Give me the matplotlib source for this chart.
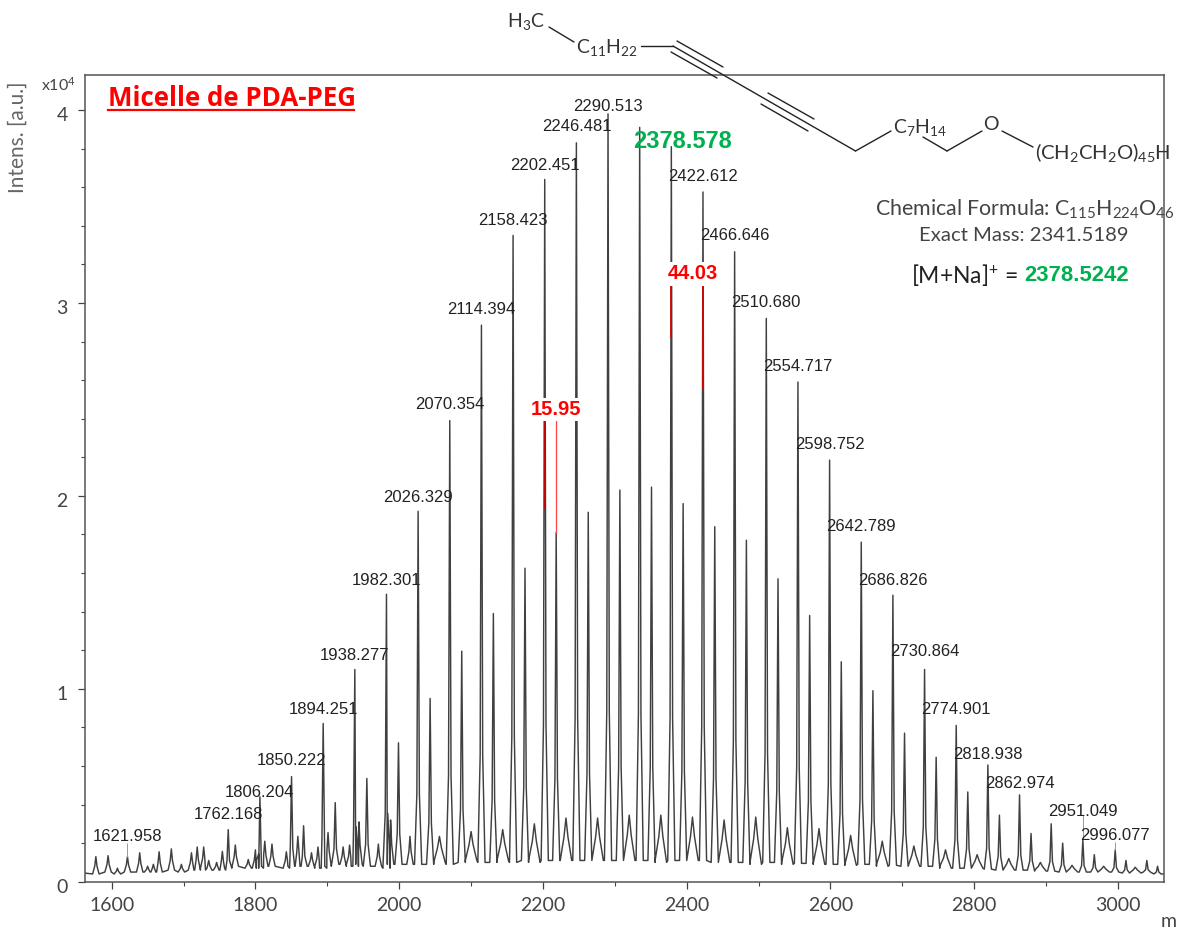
# -*- coding: utf-8 -*-
"""MALDI-TOF spectrum of PDA-PEG micelles, with the monomer structure on top."""
import numpy as np
import matplotlib
matplotlib.use('Agg')
import matplotlib.pyplot as plt
from matplotlib.transforms import ScaledTranslation

plt.rcParams['font.family'] = ['Lato', 'DejaVu Sans']
plt.rcParams['mathtext.default'] = 'regular'

# main family of peaks (44 spacing)
main_mz = [1762.168, 1806.204, 1850.222, 1894.251, 1938.277, 1982.301, 2026.329,
           2070.354, 2114.394, 2158.423, 2202.451, 2246.481, 2290.513, 2334.545,
           2378.578, 2422.612, 2466.646, 2510.680, 2554.717, 2598.752, 2642.789,
           2686.826, 2730.864, 2774.901, 2818.938, 2862.974, 2907.01, 2951.049,
           2996.077, 3040.1]
main_int = [.27, .44, .545, .82, 1.10, 1.49, 1.92, 2.39, 2.885, 3.35, 3.64, 3.83,
            3.98, 3.91, 3.81, 3.575, 3.265, 2.92, 2.59, 2.185, 1.76, 1.485, 1.10,
            .81, .605, .45, .30, .215, .165, .11]
main_foot = [.07, .07, .08, .07, .08, .07, .09, .09, .10, .10, .11, .11, .11, .11,
             .11, .11, .10, .10, .095, .09, .09, .085, .08, .07, .065, .06, .055,
             .05, .05, .05]

# +16 satellite family
side_mz = [1867, 1911, 1955, 1999, 2043, 2087, 2131, 2175, 2218.4, 2263, 2307, 2351,
           2395, 2439, 2483, 2527, 2571, 2615, 2659, 2703, 2747, 2791, 2835, 2879,
           2923, 2967, 3011, 3055]
side_int = [.29, .41, .535, .72, .95, 1.195, 1.39, 1.625, 1.81, 1.915, 2.03, 2.045,
            1.96, 1.84, 1.77, 1.57, 1.38, 1.14, .99, .77, .645, .465, .345, .25,
            .20, .14, .11, .08]
side_foot = [.08, .09, .08, .09, .09, .10, .10, .11, .11, .11, .11, .11, .11, .10,
             .10, .10, .095, .09, .09, .08, .08, .07, .06, .06, .05, .05, .045, .04]

# small humps between the main peaks
hump_mz = [2056, 2100, 2144, 2188, 2232, 2276, 2320, 2364, 2408, 2452, 2496, 2540,
           2584, 2628, 2672, 2716, 2760, 2804, 2848, 2892, 2936, 2980, 3024]
hump_int = [.235, .26, .27, .30, .33, .33, .345, .345, .335, .32, .335, .28, .275,
            .24, .21, .185, .165, .14, .12, .10, .085, .08, .075]
hump_foot = [.10, .11, .11, .10, .11, .11, .11, .10, .11, .10, .09, .09, .09, .085,
             .08, .08, .07, .07, .06, .055, .05, .05, .045]

# low mass region and shoulders
low_mz = [1578, 1595, 1608, 1621.958, 1639, 1650, 1658, 1666, 1683, 1697, 1711, 1719,
          1728, 1735, 1746, 1754, 1772, 1790, 1800, 1813, 1823, 1843, 1859, 1878,
          1887, 1901, 1922, 1931, 1944, 1971, 1988, 2015]
low_int = [.13, .135, .07, .13, .15, .08, .09, .155, .17, .09, .15, .18, .18, .11,
           .10, .157, .19, .115, .165, .21, .195, .155, .235, .15, .18, .255, .18,
           .19, .31, .195, .32, .235]
low_foot = [.04, .05, .04, .05, .05, .05, .05, .05, .06, .05, .06, .06, .07, .06,
            .06, .06, .08, .07, .07, .08, .08, .07, .08, .08, .07, .08, .09, .08,
            .09, .08, .09, .09]

# labelled peaks and the height their text sits at
label_mz = [1621.958, 1762.168, 1806.204, 1850.222, 1894.251, 1938.277, 1982.301,
            2026.329, 2070.354, 2114.394, 2158.423, 2202.451, 2246.481, 2290.513,
            2422.612, 2466.646, 2510.680, 2554.717, 2598.752, 2642.789, 2686.826,
            2730.864, 2774.901, 2818.938, 2862.974, 2951.049, 2996.077]
label_int = [.232, .346, .46, .626, .895, 1.175, 1.559, 1.989, 2.471, 2.964, 3.425,
             3.71, 3.913, 4.016, 3.653, 3.347, 3.0, 2.673, 2.264, 1.839, 1.559,
             1.191, .89, .657, .507, .362, .238]
connect_mz = [1621.958, 2951.049, 2996.077]
connect_top = [.20, .345, .205]
connect_base = [.13, .215, .165]

# red marks for the mass differences
diff_mz = [2202.451, 2218.4, 2378.578, 2422.612]
diff_low = [1.93, 1.81, 2.82, 2.55]
diff_high = [2.40, 2.40, 3.10, 3.10]


def add_peaks(mzs, tops, feet, width, frac, points):
    # foot, flank, top, flank, foot
    for mz, peak, foot in zip(mzs, tops, feet):
        flank = foot + frac * (peak - foot)
        points += [(mz - width, foot), (mz - 0.35 * width, flank), (mz, peak),
                   (mz + 0.35 * width, flank), (mz + width, foot)]


pts = [(1562, .045)]
add_peaks(main_mz, main_int, main_foot, 5, 0.2, pts)
add_peaks(side_mz, side_int, side_foot, 5, 0.25, pts)
add_peaks(hump_mz, hump_int, hump_foot, 8, 0.55, pts)
add_peaks(low_mz, low_int, low_foot, 4.5, 0.45, pts)
pts.append((3063, .04))
pts = np.array(sorted(pts))

W, H = 1177, 930
fig = plt.figure(figsize=(W / 100., H / 100.), dpi=100)
left, right, top, bottom = 84.5, 1163.6, 74.7, 881.7
ax = fig.add_axes([left / W, 1 - bottom / H, (right - left) / W, (bottom - top) / H])
ax.plot(pts[:, 0], pts[:, 1], color='#404040', linewidth=1.05, zorder=2)
ax.vlines(connect_mz, connect_base, connect_top, color='#999999', linewidth=0.7)
ax.vlines(diff_mz[0], diff_low[0], diff_high[0], color='#cc0000', linewidth=1.3, zorder=3)
ax.vlines(diff_mz[1], diff_low[1], diff_high[1], color='#ff4444', linewidth=0.9, zorder=3)
ax.vlines(diff_mz[2:], diff_low[2:], diff_high[2:], color='#e00000', linewidth=1.2, zorder=3)
ax.set_xlim(1562.2, 3063.4)
ax.set_ylim(0, 4.183)
ax.set_xticks(np.arange(1600, 3001, 200))
ax.set_xticks(np.arange(1700, 3001, 200), minor=True)
ax.set_yticks(np.arange(0, 5))
ax.set_yticks(np.arange(0, 4.1, 0.2), minor=True)
ax.tick_params(which='major', length=5, width=0.9, color='#444444', labelcolor='#444444',
               labelsize=14)
ax.tick_params(which='minor', length=3, width=0.8, color='#444444')
ax.tick_params(axis='y', which='major', pad=7)
ax.tick_params(axis='x', which='major', pad=6)
# y tick labels sit a little under their ticks
nudge = ScaledTranslation(0, -4 / 100., fig.dpi_scale_trans)
for lab in ax.get_yticklabels():
    lab.set_transform(lab.get_transform() + nudge)
for sp in ax.spines.values():
    sp.set_color('#555555')
    sp.set_linewidth(1.1)

for mz, yy in zip(label_mz, label_int):
    ax.text(mz, yy, '%.3f' % mz, ha='center', va='center', fontsize=12,
            family='Liberation Sans', color='#222222', zorder=4)

red_box = dict(facecolor='w', edgecolor='none', pad=1.5)
ax.text(2218, 2.45, '15.95', color='#ff0000', ha='center', va='center', fontsize=14.5,
        family='Liberation Sans', fontweight='bold', bbox=red_box, zorder=5)
ax.text(2408, 3.15, '44.03', color='#ff0000', ha='center', va='center', fontsize=14.5,
        family='Liberation Sans', fontweight='bold', bbox=red_box, zorder=5)

# overlay in pixel coordinates for the structure and the notes
ov = fig.add_axes([0, 0, 1, 1], facecolor='none')
ov.set_xlim(0, W)
ov.set_ylim(H, 0)
ov.axis('off')

bonds = [((549, 27), (574, 42)), ((641, 46), (673, 46)), ((673, 46), (855.5, 151)),
         ((677, 41), (723, 67)), ((671, 52), (717, 78)), ((768, 93), (814, 119)),
         ((761, 104), (808, 131)), ((855.5, 151), (891, 131)), ((923, 137), (947, 151)),
         ((947, 151), (982, 131)), ((1002, 131), (1033, 147))]
for a, b in bonds:
    ov.plot([a[0], b[0]], [a[1], b[1]], color='#222222', linewidth=1.0,
            solid_capstyle='round')

dark = '#333333'
ov.text(526, 22, r'H$_3$C', ha='center', va='center', fontsize=14, color=dark)
ov.text(607, 48, r'C$_{11}$H$_{22}$', ha='center', va='center', fontsize=14, color=dark)
ov.text(920, 127, r'C$_7$H$_{14}$', ha='center', va='center', fontsize=14, color=dark)
ov.text(991, 125, 'O', ha='center', va='center', fontsize=14, color=dark)
ov.text(1103, 153, r'(CH$_2$CH$_2$O)$_{45}$H', ha='center', va='center', fontsize=14.6,
        color=dark)
ov.text(1025, 209, r'Chemical Formula: C$_{115}$H$_{224}$O$_{46}$', ha='center',
        va='center', fontsize=15.4, color='#444444')
ov.text(1024, 235, 'Exact Mass: 2341.5189', ha='center', va='center', fontsize=14.6,
        color='#444444')
ov.text(911, 275, r'[M+Na]$^{+}$ =', ha='left', va='center', fontsize=16.5, color='#222222')
ov.text(1129, 275, '2378.5242', ha='right', va='center', fontsize=15.9, color='#00b050',
        fontweight='bold', family='Liberation Sans')
ov.text(682, 141, '2378.578', ha='center', va='center', fontsize=17, color='#00b050',
        fontweight='bold', family='Liberation Sans', zorder=6)

ov.text(108, 98, 'Micelle de PDA-PEG', ha='left', va='center', fontsize=18.6, color='#ff0000',
        fontweight='bold', family='Open Sans')
ov.plot([108, 354], [110, 110], color='#ff0000', linewidth=1.6)
ov.text(18, 137, 'Intens. [a.u.]', rotation=90, ha='center', va='center', fontsize=15,
        color='#666666')
ov.text(41, 85, r'x10$^4$', ha='left', va='center', fontsize=11.5, color='#444444')
ov.text(1169, 921, 'm', ha='center', va='center', fontsize=14, color='#444444')

fig.savefig('out.png', dpi=100)
